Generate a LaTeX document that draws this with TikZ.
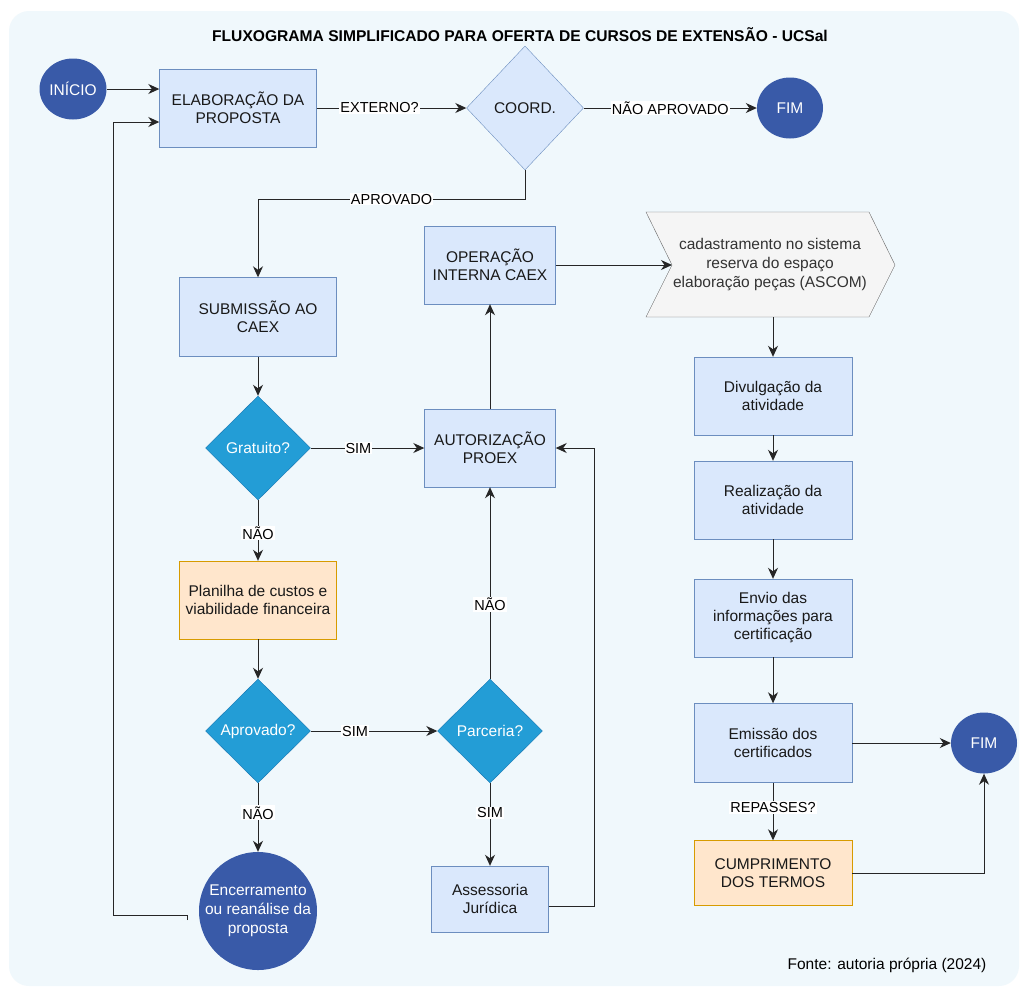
\documentclass[tikz,border=0pt]{standalone}
\usepackage{fontspec}
\setmainfont{Liberation Sans}
\usetikzlibrary{shapes.geometric,arrows.meta}
\definecolor{bgcol}{RGB}{240,248,252}
\definecolor{procfill}{RGB}{218,232,252}
\definecolor{procline}{RGB}{108,142,191}
\definecolor{termfill}{RGB}{57,90,168}
\definecolor{decfill}{RGB}{35,157,214}
\definecolor{decline}{RGB}{20,118,178}
\definecolor{warnfill}{RGB}{255,230,204}
\definecolor{warnline}{RGB}{215,155,0}
\definecolor{stepfill}{RGB}{245,245,245}
\definecolor{stepline}{RGB}{102,102,102}
\definecolor{linecol}{RGB}{38,38,38}
\begin{document}
\begin{tikzpicture}[x=1pt,y=-1pt,font=\fontsize{15.5}{18}\selectfont,
    box/.style={draw=procline,fill=procfill,align=center,text=black!90},
    warnbox/.style={draw=warnline,fill=warnfill,align=center,text=black!90},
    term/.style={ellipse,fill=termfill,text=white,align=center,inner sep=0pt},
    decision/.style={diamond,draw=decline,fill=decfill,text=white,inner sep=0pt},
    conn/.style={draw=linecol,line width=1pt,-{Stealth[length=11pt,width=10pt,inset=3.5pt]}},
    lbl/.style={fill=white,inner sep=1pt,text=black,font=\fontsize{14.5}{16}\selectfont}]
    \useasboundingbox (0,0) rectangle (1027,986);
    \fill[white] (0,0) rectangle (1027,986);
    \fill[bgcol,rounded corners=20] (9,11) rectangle (1019,986);

    \node at (520,35) [font=\bfseries\fontsize{15.6}{18}\selectfont] (title) {FLUXOGRAMA SIMPLIFICADO PARA OFERTA DE CURSOS DE EXTENSÃO - UCSal};

    \node at (73,89) [term,minimum width=66,minimum height=61] (inicio) {INÍCIO};
    \node at (238,108) [box,minimum width=157,minimum height=78] (elab) {ELABORAÇÃO DA\\PROPOSTA};
    \node at (525,108) [box,diamond,inner sep=0pt,minimum width=117,minimum height=124] (coord) {COORD.};
    \node at (790,108) [term,minimum width=66,minimum height=61] (fim1) {FIM};

    \node at (258,317) [box,minimum width=157,minimum height=79] (subm) {SUBMISSÃO AO\\CAEX};
    \node at (490,265) [box,minimum width=131,minimum height=78] (oper) {OPERAÇÃO\\INTERNA CAEX};
    \draw[draw=stepline,fill=stepfill] (646,212) -- (869,212) -- (895,265) -- (869,317) -- (646,317) -- (672,265) -- cycle;
    \node at (770,265) [align=center,text=black!80,font=\fontsize{15.5}{19}\selectfont] (cad) {cadastramento no sistema\\reserva do espaço\\elaboração peças (ASCOM)};
    \coordinate (cadin) at (672,265);
    \coordinate (cadout) at (773,317);

    \node at (258,448) [decision,minimum width=105,minimum height=104] (grat) {Gratuito?};
    \node at (490,448) [box,minimum width=131,minimum height=78] (autor) {AUTORIZAÇÃO\\PROEX};
    \node at (258,600) [warnbox,minimum width=157,minimum height=78] (plan) {Planilha de custos e\\viabilidade financeira};
    \node at (258,731) [decision,minimum width=105,minimum height=104] (aprov) {Aprovado?};
    \node at (490,731) [decision,minimum width=105,minimum height=104] (parc) {Parceria?};
    \node at (258,911) [term,inner sep=-13pt,minimum width=118,minimum height=118,font=\fontsize{15.5}{19}\selectfont] (encer) {Encerramento\\ou reanálise da\\proposta};
    \node at (490,899) [box,minimum width=117,minimum height=66] (assess) {Assessoria\\Jurídica};

    \node at (773,396) [box,minimum width=158,minimum height=78] (divul) {Divulgação da\\atividade};
    \node at (773,500) [box,minimum width=158,minimum height=78] (realiz) {Realização da\\atividade};
    \node at (773,618) [box,minimum width=158,minimum height=78] (envio) {Envio das\\informações para\\certificação};
    \node at (773,743) [box,minimum width=158,minimum height=79] (emiss) {Emissão dos\\certificados};
    \node at (984,743) [term,minimum width=66,minimum height=61] (fim2) {FIM};
    \node at (773,873) [warnbox,minimum width=158,minimum height=65] (cumpr) {CUMPRIMENTO\\DOS TERMOS};
    \node at (887,965) (fonte) {Fonte: autoria própria (2024)};
    \coordinate (loopstart) at (187,920);

    \draw[conn] (inicio) -- (inicio -| elab.west);
    \draw[conn] (elab) -- node[lbl,pos=0.42] {EXTERNO?} (coord);
    \draw[conn] (coord) -- node[lbl] {NÃO APROVADO} (fim1);
    \draw[conn] (coord.south) -- ++(0,29) -| node[lbl,pos=0.25] {APROVADO} (subm.north);
    \draw[conn] (subm) -- (grat);
    \draw[conn] (grat) -- node[lbl,pos=0.42] {SIM} (autor);
    \draw[conn] (grat) -- node[lbl,pos=0.54] {NÃO} (plan);
    \draw[conn] (autor) -- (oper);
    \draw[conn] (oper) -- (cadin);
    \draw[conn] (cadout) -- (divul);
    \draw[conn] (divul) -- (realiz);
    \draw[conn] (realiz) -- (envio);
    \draw[conn] (envio) -- (emiss);
    \draw[conn] (emiss) -- (fim2);
    \draw[conn] (emiss) -- node[lbl,pos=0.43] {REPASSES?} (cumpr);
    \draw[conn] (cumpr) -| (fim2);
    \draw[conn] (plan) -- (aprov);
    \draw[conn] (aprov) -- node[lbl,pos=0.35] {SIM} (parc);
    \draw[conn] (aprov) -- node[lbl,pos=0.43] {NÃO} (encer);
    \draw[conn] (parc) -- node[lbl,pos=0.39] {NÃO} (autor);
    \draw[conn] (parc) -- node[lbl,pos=0.36] {SIM} (assess);
    \draw[conn] ([yshift=-7pt]assess.east) -- ++(46,0) |- (autor.east);
    \draw[conn] (loopstart) -- ++(0,-5) -- ++(-74,0) |- ([yshift=-14pt]elab.west);
\end{tikzpicture}
\end{document}
